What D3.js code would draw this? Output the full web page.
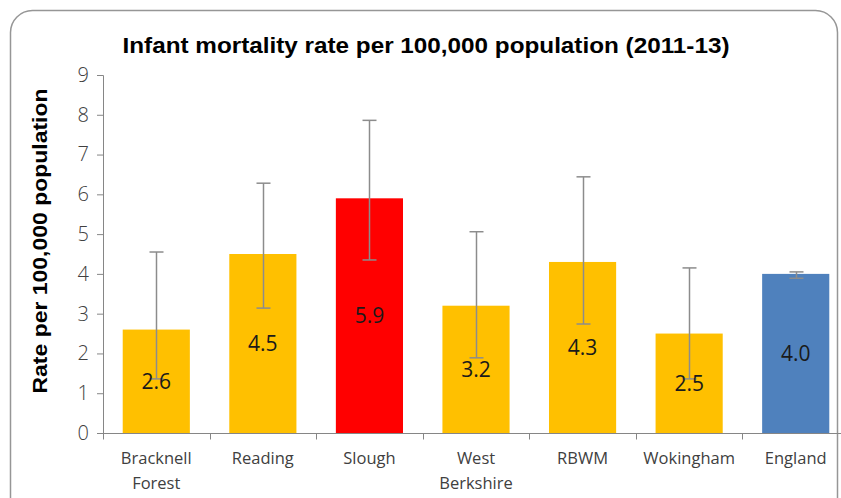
<!DOCTYPE html>
<html><head><meta charset="utf-8">
<script src="https://cdn.jsdelivr.net/npm/d3@7"></script>
<style>html,body{margin:0;padding:0;background:#fff;}svg{display:block;}</style>
</head><body>
<svg id="c" width="841" height="498"></svg>
<script>
const categories = ["Bracknell Forest","Reading","Slough","West Berkshire","RBWM","Wokingham","England"];
const values = [2.6, 4.5, 5.9, 3.2, 4.3, 2.5, 4.0];
const lowerCI = [1.36, 3.14, 4.35, 1.89, 2.74, 1.36, 3.89];
const upperCI = [4.55, 6.28, 7.86, 5.06, 6.44, 4.15, 4.05];
const barColors = ["#FFC000","#FFC000","#FF0000","#FFC000","#FFC000","#FFC000","#4F81BD"];
const yTicks = [0,1,2,3,4,5,6,7,8,9];
const title = "Infant mortality rate per 100,000 population (2011-13)";
const yTitle = "Rate per 100,000 population";

const svg = d3.select("#c");
const font = "'Open Sans', 'Liberation Sans', sans-serif";

// frame
svg.append("rect").attr("x",10.5).attr("y",10.5).attr("width",827).attr("height",520)
  .attr("rx",22).attr("ry",22).attr("fill","#fff").attr("stroke","#969696").attr("stroke-width",1.5);

const x = d3.scaleBand().domain(categories).range([103, 849]).paddingInner(0.37).paddingOuter(0.185);
const y = d3.scaleLinear().domain([0,9]).range([433, 75]);

// y axis
const ya = svg.append("g").attr("transform","translate(103,0)")
  .call(d3.axisLeft(y).tickValues(yTicks).tickSize(6).tickPadding(8).tickFormat(d3.format("d")));
ya.select(".domain").attr("stroke","#868686").attr("d","M-6,75.5H0.5V433.5");
ya.selectAll(".tick line").attr("stroke","#868686");
ya.selectAll(".tick text").attr("fill","#404040").style("font-family",font).style("font-size","20px").style("font-weight","300");

// x axis
const xa = svg.append("g").attr("transform","translate(0,433.5)");
xa.append("line").attr("x1",103).attr("x2",849).attr("stroke","#868686");
const bounds = categories.map((c,i)=> x.step()*i + 103).concat([849]);
xa.selectAll("line.t").data(bounds).join("line").attr("class","t")
  .attr("x1",d=>Math.round(d)+0.5).attr("x2",d=>Math.round(d)+0.5).attr("y1",0).attr("y2",6).attr("stroke","#868686");

// category labels
categories.forEach((c,i)=>{
  const cx = x(c)+x.bandwidth()/2;
  const words = c.split(" ");
  const t = svg.append("text").attr("text-anchor","middle").attr("fill","#404040")
    .style("font-family",font).style("font-size","16.5px");
  words.forEach((w,j)=> t.append("tspan").attr("x",cx).attr("y",464 + j*25).text(w));
});

// bars
svg.selectAll("rect.bar").data(values).join("rect").attr("class","bar")
  .attr("x",(d,i)=>x(categories[i])).attr("width",x.bandwidth())
  .attr("y",d=>y(d)).attr("height",d=>y(0)-y(d)).attr("fill",(d,i)=>barColors[i]);

// error bars
const eg = svg.append("g").attr("stroke","#8c8c8c").attr("stroke-width",1.5);
values.forEach((v,i)=>{
  const cx = Math.round(x(categories[i])+x.bandwidth()/2)+0.5;
  eg.append("line").attr("x1",cx).attr("x2",cx).attr("y1",y(upperCI[i])).attr("y2",y(lowerCI[i]));
  eg.append("line").attr("x1",cx-7).attr("x2",cx+7).attr("y1",y(upperCI[i])).attr("y2",y(upperCI[i]));
  eg.append("line").attr("x1",cx-7).attr("x2",cx+7).attr("y1",y(lowerCI[i])).attr("y2",y(lowerCI[i]));
});

// data labels
svg.selectAll("text.lab").data(values).join("text").attr("class","lab")
  .attr("x",(d,i)=>x(categories[i])+x.bandwidth()/2)
  .attr("y",d=>(y(d)+y(0))/2).attr("dy","0.35em").attr("text-anchor","middle")
  .attr("fill","#1a1a1a").style("font-family",font).style("font-size","21px")
  .text(d=>d3.format(".1f")(d));

// title
svg.append("text").attr("x",426).attr("y",53).attr("text-anchor","middle")
  .attr("textLength",607).attr("lengthAdjust","spacingAndGlyphs")
  .style("font-family","'Liberation Sans', Arial, sans-serif").style("font-weight","bold").style("font-size","22px")
  .attr("fill","#000").text(title);

// y title
svg.append("text").attr("transform","translate(47,241) rotate(-90)").attr("text-anchor","middle")
  .attr("textLength",305).attr("lengthAdjust","spacingAndGlyphs")
  .style("font-family","'Liberation Sans', Arial, sans-serif").style("font-weight","bold").style("font-size","21px")
  .attr("fill","#000").text(yTitle);
</script>
</body></html>
